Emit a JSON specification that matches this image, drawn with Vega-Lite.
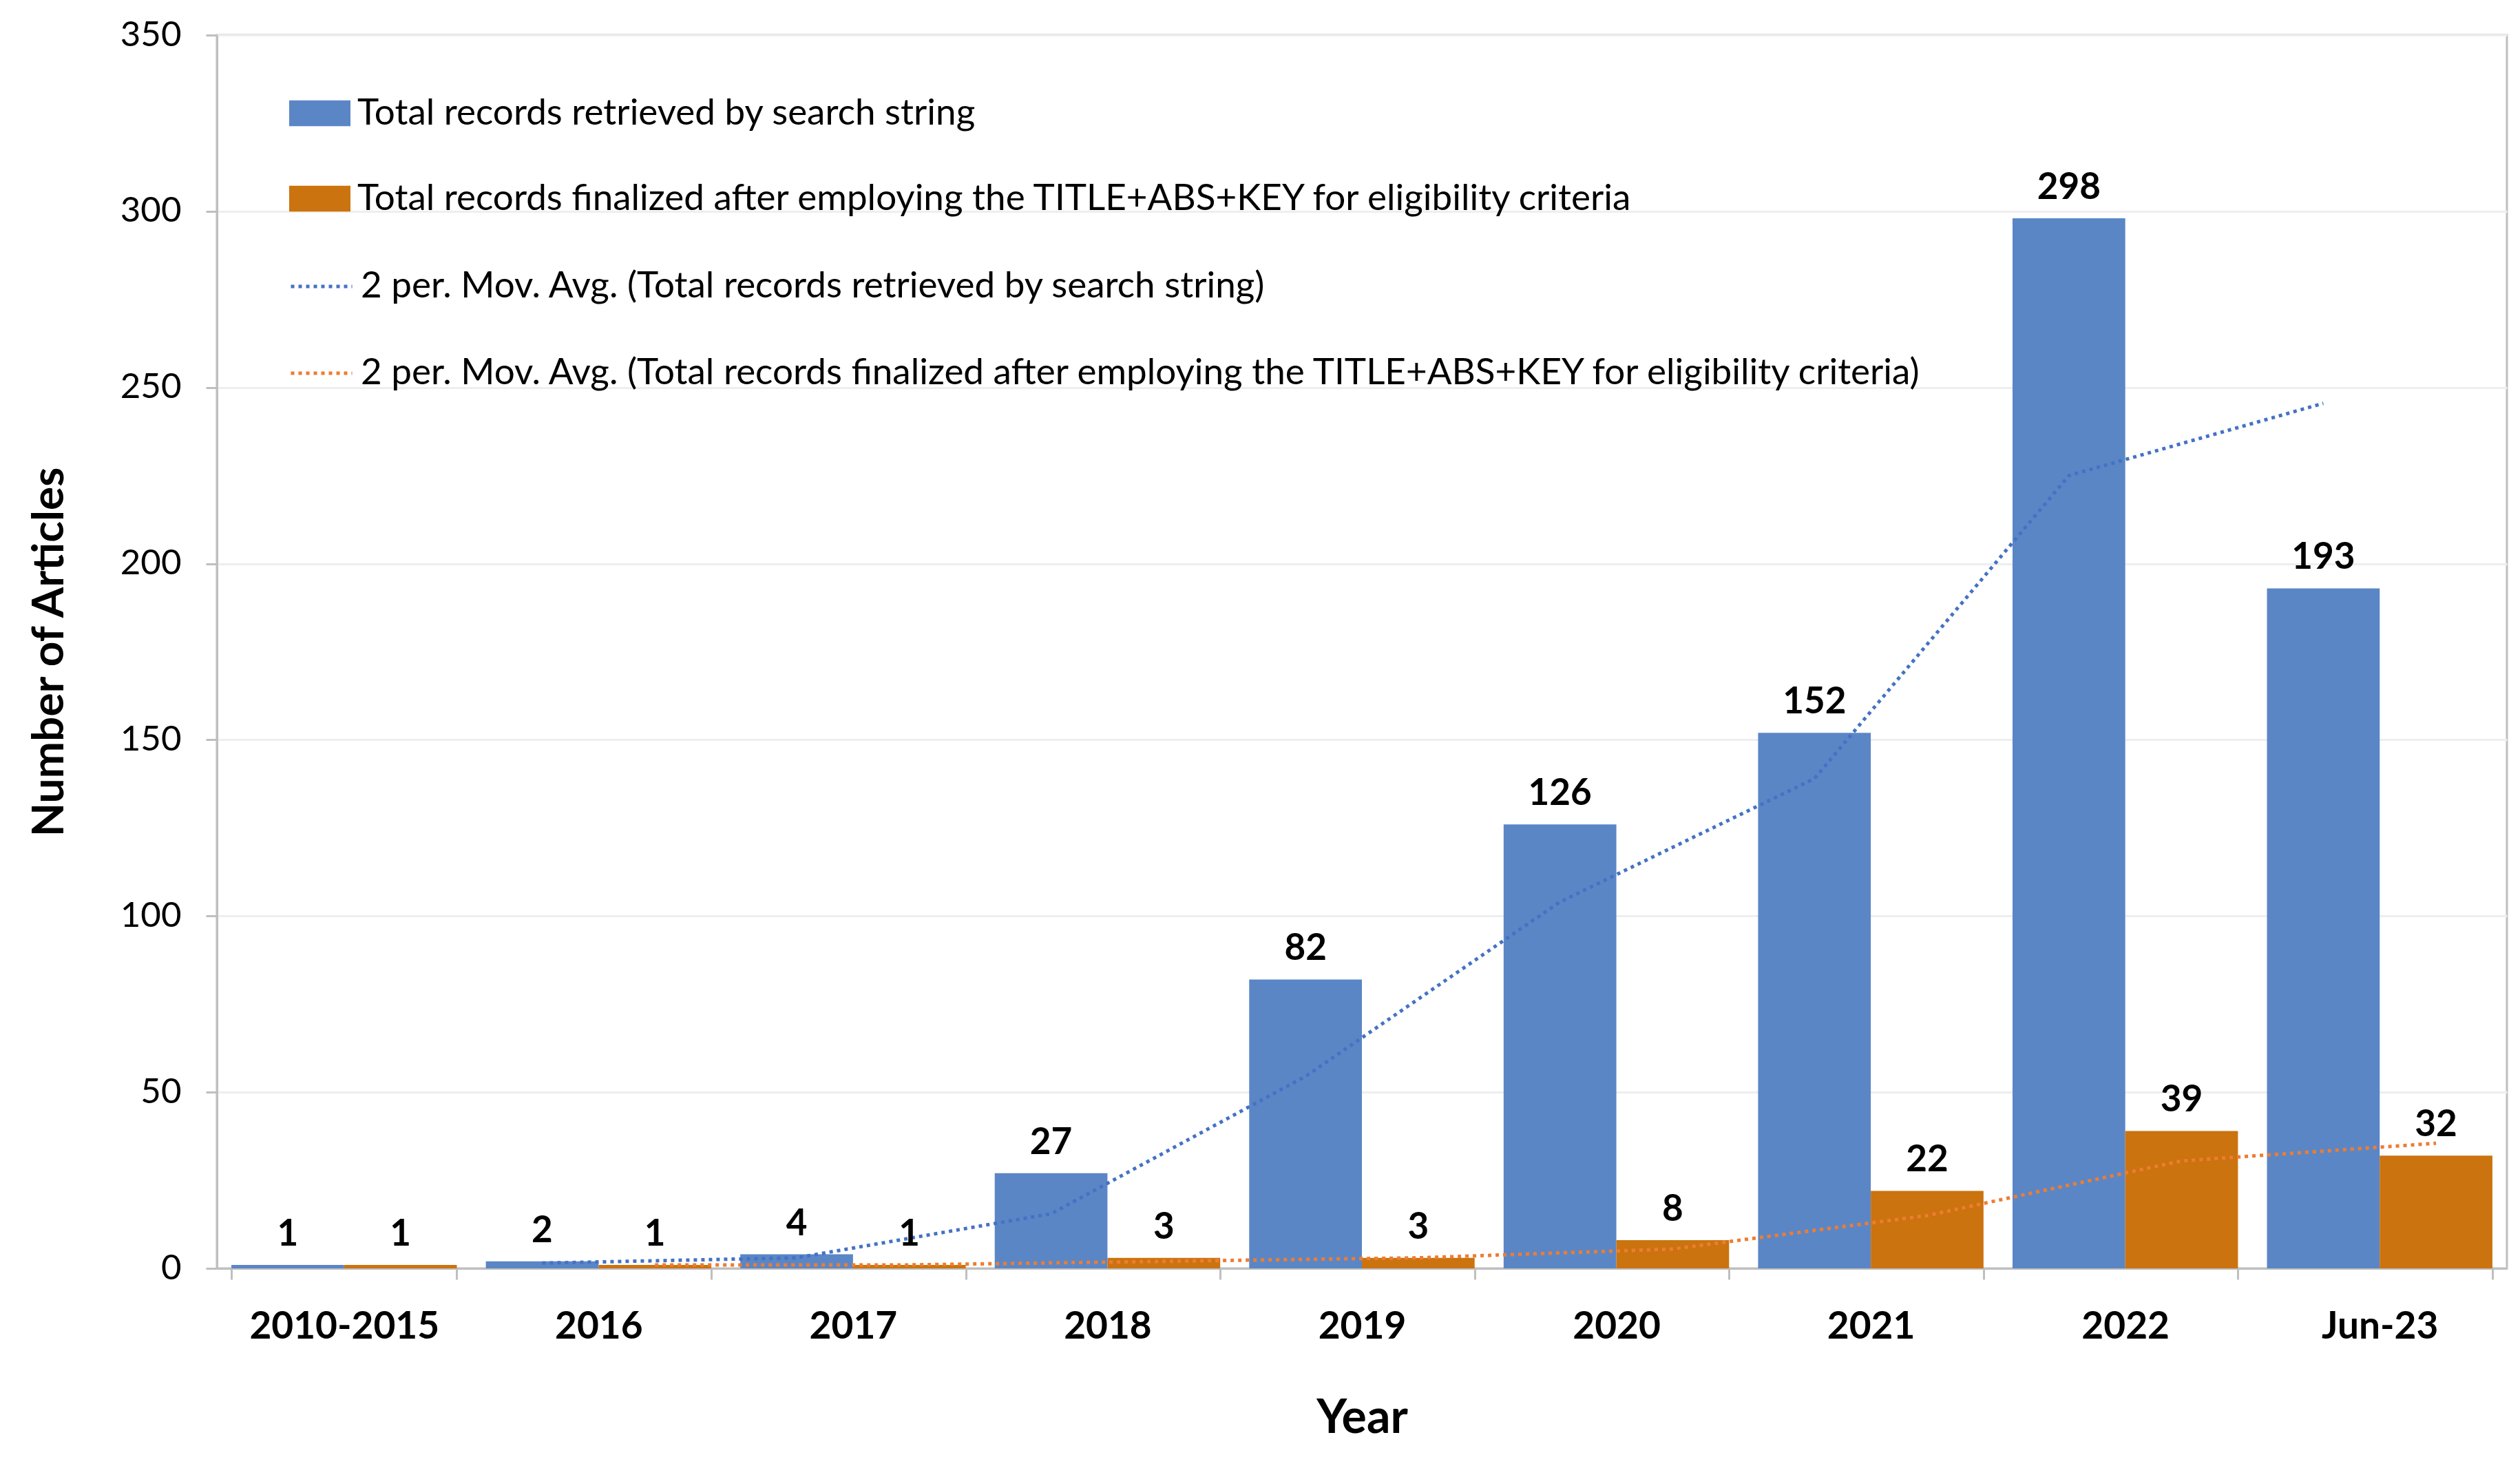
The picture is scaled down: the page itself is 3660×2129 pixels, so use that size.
{
  "$schema": "https://vega.github.io/schema/vega-lite/v6.json",
  "width": 3326,
  "height": 1791,
  "autosize": {"type": "none"},
  "padding": {"left": 315, "top": 51, "right": 19, "bottom": 287},
  "background": "white",
  "config": {
    "font": "Lato",
    "view": {"stroke": "#BFBFBF", "strokeWidth": 3},
    "axis": {"labelFont": "Lato", "titleFont": "Lato", "labelColor": "#000000", "titleColor": "#000000"}
  },
  "datasets": {
    "bars": [
      {"cat": "2010-2015", "series": "Total records retrieved by search string", "value": 1},
      {"cat": "2010-2015", "series": "Total records finalized after employing the TITLE+ABS+KEY for eligibility criteria", "value": 1},
      {"cat": "2016", "series": "Total records retrieved by search string", "value": 2},
      {"cat": "2016", "series": "Total records finalized after employing the TITLE+ABS+KEY for eligibility criteria", "value": 1},
      {"cat": "2017", "series": "Total records retrieved by search string", "value": 4},
      {"cat": "2017", "series": "Total records finalized after employing the TITLE+ABS+KEY for eligibility criteria", "value": 1},
      {"cat": "2018", "series": "Total records retrieved by search string", "value": 27},
      {"cat": "2018", "series": "Total records finalized after employing the TITLE+ABS+KEY for eligibility criteria", "value": 3},
      {"cat": "2019", "series": "Total records retrieved by search string", "value": 82},
      {"cat": "2019", "series": "Total records finalized after employing the TITLE+ABS+KEY for eligibility criteria", "value": 3},
      {"cat": "2020", "series": "Total records retrieved by search string", "value": 126},
      {"cat": "2020", "series": "Total records finalized after employing the TITLE+ABS+KEY for eligibility criteria", "value": 8},
      {"cat": "2021", "series": "Total records retrieved by search string", "value": 152},
      {"cat": "2021", "series": "Total records finalized after employing the TITLE+ABS+KEY for eligibility criteria", "value": 22},
      {"cat": "2022", "series": "Total records retrieved by search string", "value": 298},
      {"cat": "2022", "series": "Total records finalized after employing the TITLE+ABS+KEY for eligibility criteria", "value": 39},
      {"cat": "Jun-23", "series": "Total records retrieved by search string", "value": 193},
      {"cat": "Jun-23", "series": "Total records finalized after employing the TITLE+ABS+KEY for eligibility criteria", "value": 32}
    ],
    "avg": [
      {"cat": "2016", "series": "Total records retrieved by search string", "ma": "2 per. Mov. Avg. (Total records retrieved by search string)", "avg": 1.5},
      {"cat": "2017", "series": "Total records retrieved by search string", "ma": "2 per. Mov. Avg. (Total records retrieved by search string)", "avg": 3},
      {"cat": "2018", "series": "Total records retrieved by search string", "ma": "2 per. Mov. Avg. (Total records retrieved by search string)", "avg": 15.5},
      {"cat": "2019", "series": "Total records retrieved by search string", "ma": "2 per. Mov. Avg. (Total records retrieved by search string)", "avg": 54.5},
      {"cat": "2020", "series": "Total records retrieved by search string", "ma": "2 per. Mov. Avg. (Total records retrieved by search string)", "avg": 104},
      {"cat": "2021", "series": "Total records retrieved by search string", "ma": "2 per. Mov. Avg. (Total records retrieved by search string)", "avg": 139},
      {"cat": "2022", "series": "Total records retrieved by search string", "ma": "2 per. Mov. Avg. (Total records retrieved by search string)", "avg": 225},
      {"cat": "Jun-23", "series": "Total records retrieved by search string", "ma": "2 per. Mov. Avg. (Total records retrieved by search string)", "avg": 245.5},
      {"cat": "2016", "series": "Total records finalized after employing the TITLE+ABS+KEY for eligibility criteria", "ma": "2 per. Mov. Avg. (Total records finalized after employing the TITLE+ABS+KEY for eligibility criteria)", "avg": 1},
      {"cat": "2017", "series": "Total records finalized after employing the TITLE+ABS+KEY for eligibility criteria", "ma": "2 per. Mov. Avg. (Total records finalized after employing the TITLE+ABS+KEY for eligibility criteria)", "avg": 1},
      {"cat": "2018", "series": "Total records finalized after employing the TITLE+ABS+KEY for eligibility criteria", "ma": "2 per. Mov. Avg. (Total records finalized after employing the TITLE+ABS+KEY for eligibility criteria)", "avg": 2},
      {"cat": "2019", "series": "Total records finalized after employing the TITLE+ABS+KEY for eligibility criteria", "ma": "2 per. Mov. Avg. (Total records finalized after employing the TITLE+ABS+KEY for eligibility criteria)", "avg": 3},
      {"cat": "2020", "series": "Total records finalized after employing the TITLE+ABS+KEY for eligibility criteria", "ma": "2 per. Mov. Avg. (Total records finalized after employing the TITLE+ABS+KEY for eligibility criteria)", "avg": 5.5},
      {"cat": "2021", "series": "Total records finalized after employing the TITLE+ABS+KEY for eligibility criteria", "ma": "2 per. Mov. Avg. (Total records finalized after employing the TITLE+ABS+KEY for eligibility criteria)", "avg": 15},
      {"cat": "2022", "series": "Total records finalized after employing the TITLE+ABS+KEY for eligibility criteria", "ma": "2 per. Mov. Avg. (Total records finalized after employing the TITLE+ABS+KEY for eligibility criteria)", "avg": 30.5},
      {"cat": "Jun-23", "series": "Total records finalized after employing the TITLE+ABS+KEY for eligibility criteria", "ma": "2 per. Mov. Avg. (Total records finalized after employing the TITLE+ABS+KEY for eligibility criteria)", "avg": 35.5}
    ]
  },
  "encoding": {
    "x": {
      "field": "cat",
      "type": "nominal",
      "sort": ["2010-2015", "2016", "2017", "2018", "2019", "2020", "2021", "2022", "Jun-23"],
      "scale": {"paddingInner": 0.114, "paddingOuter": 0.057},
      "axis": {
        "title": "Year",
        "titleFontSize": 68,
        "titleFontWeight": "bold",
        "titlePadding": 72,
        "labelFontSize": 55,
        "labelFontWeight": "bold",
        "labelAngle": 0,
        "labelPadding": 42,
        "labelLimit": 1000,
        "tickBand": "extent",
        "tickSize": 16,
        "tickColor": "#BFBFBF",
        "tickWidth": 3,
        "domainColor": "#BFBFBF",
        "domainWidth": 3,
        "grid": false
      }
    },
    "xOffset": {
      "field": "series",
      "type": "nominal",
      "sort": ["Total records retrieved by search string", "Total records finalized after employing the TITLE+ABS+KEY for eligibility criteria"],
      "scale": {"paddingInner": 0, "paddingOuter": 0}
    }
  },
  "layer": [
    {
      "data": {"name": "bars"},
      "mark": {"type": "bar"},
      "encoding": {
        "y": {
          "field": "value",
          "type": "quantitative",
          "scale": {"domain": [0, 350], "nice": false},
          "axis": {
            "title": "Number of Articles",
            "titleFontSize": 64,
            "titleFontWeight": "bold",
            "titlePadding": 70,
            "labelFontSize": 51,
            "labelFontWeight": "normal",
            "labelPadding": 36,
            "values": [0, 50, 100, 150, 200, 250, 300, 350],
            "tickSize": 16,
            "tickColor": "#BFBFBF",
            "tickWidth": 3,
            "domainColor": "#BFBFBF",
            "domainWidth": 3,
            "grid": true,
            "gridColor": "#EEEEEE",
            "gridWidth": 3
          }
        },
        "fill": {
          "field": "series",
          "type": "nominal",
          "sort": ["Total records retrieved by search string", "Total records finalized after employing the TITLE+ABS+KEY for eligibility criteria"],
          "scale": {"range": ["#5B86C6", "#CB730F"]},
          "legend": {
            "title": null,
            "orient": "none",
            "legendX": 105,
            "legendY": 69,
            "direction": "vertical",
            "symbolType": "M-1,-0.42L1,-0.42L1,0.42L-1,0.42Z",
            "symbolSize": 7921,
            "symbolStrokeWidth": 0,
            "symbolOpacity": 1,
            "labelFont": "Lato",
            "labelFontSize": 53,
            "labelColor": "#000000",
            "labelLimit": 3000,
            "labelOffset": 10,
            "rowPadding": 52
          }
        }
      }
    },
    {
      "data": {"name": "avg"},
      "mark": {"type": "line", "strokeWidth": 5, "strokeDash": [5, 6], "strokeCap": "butt"},
      "encoding": {
        "y": {"field": "avg", "type": "quantitative"},
        "stroke": {
          "field": "ma",
          "type": "nominal",
          "sort": ["2 per. Mov. Avg. (Total records retrieved by search string)", "2 per. Mov. Avg. (Total records finalized after employing the TITLE+ABS+KEY for eligibility criteria)"],
          "scale": {"range": ["#4472C4", "#ED7D31"]},
          "legend": {
            "title": null,
            "orient": "none",
            "legendX": 105,
            "legendY": 318,
            "direction": "vertical",
            "symbolType": "stroke",
            "symbolSize": 7921,
            "symbolStrokeWidth": 5,
            "symbolDash": [5, 6],
            "labelFont": "Lato",
            "labelFontSize": 53,
            "labelColor": "#000000",
            "labelLimit": 3000,
            "labelOffset": 10,
            "rowPadding": 52
          }
        }
      }
    },
    {
      "data": {"name": "bars"},
      "mark": {"type": "text", "baseline": "alphabetic", "dy": -28, "fontSize": 53, "fontWeight": "bold", "font": "Lato", "color": "#000000"},
      "encoding": {
        "y": {"field": "value", "type": "quantitative"},
        "text": {"field": "value", "type": "quantitative"}
      }
    }
  ]
}
